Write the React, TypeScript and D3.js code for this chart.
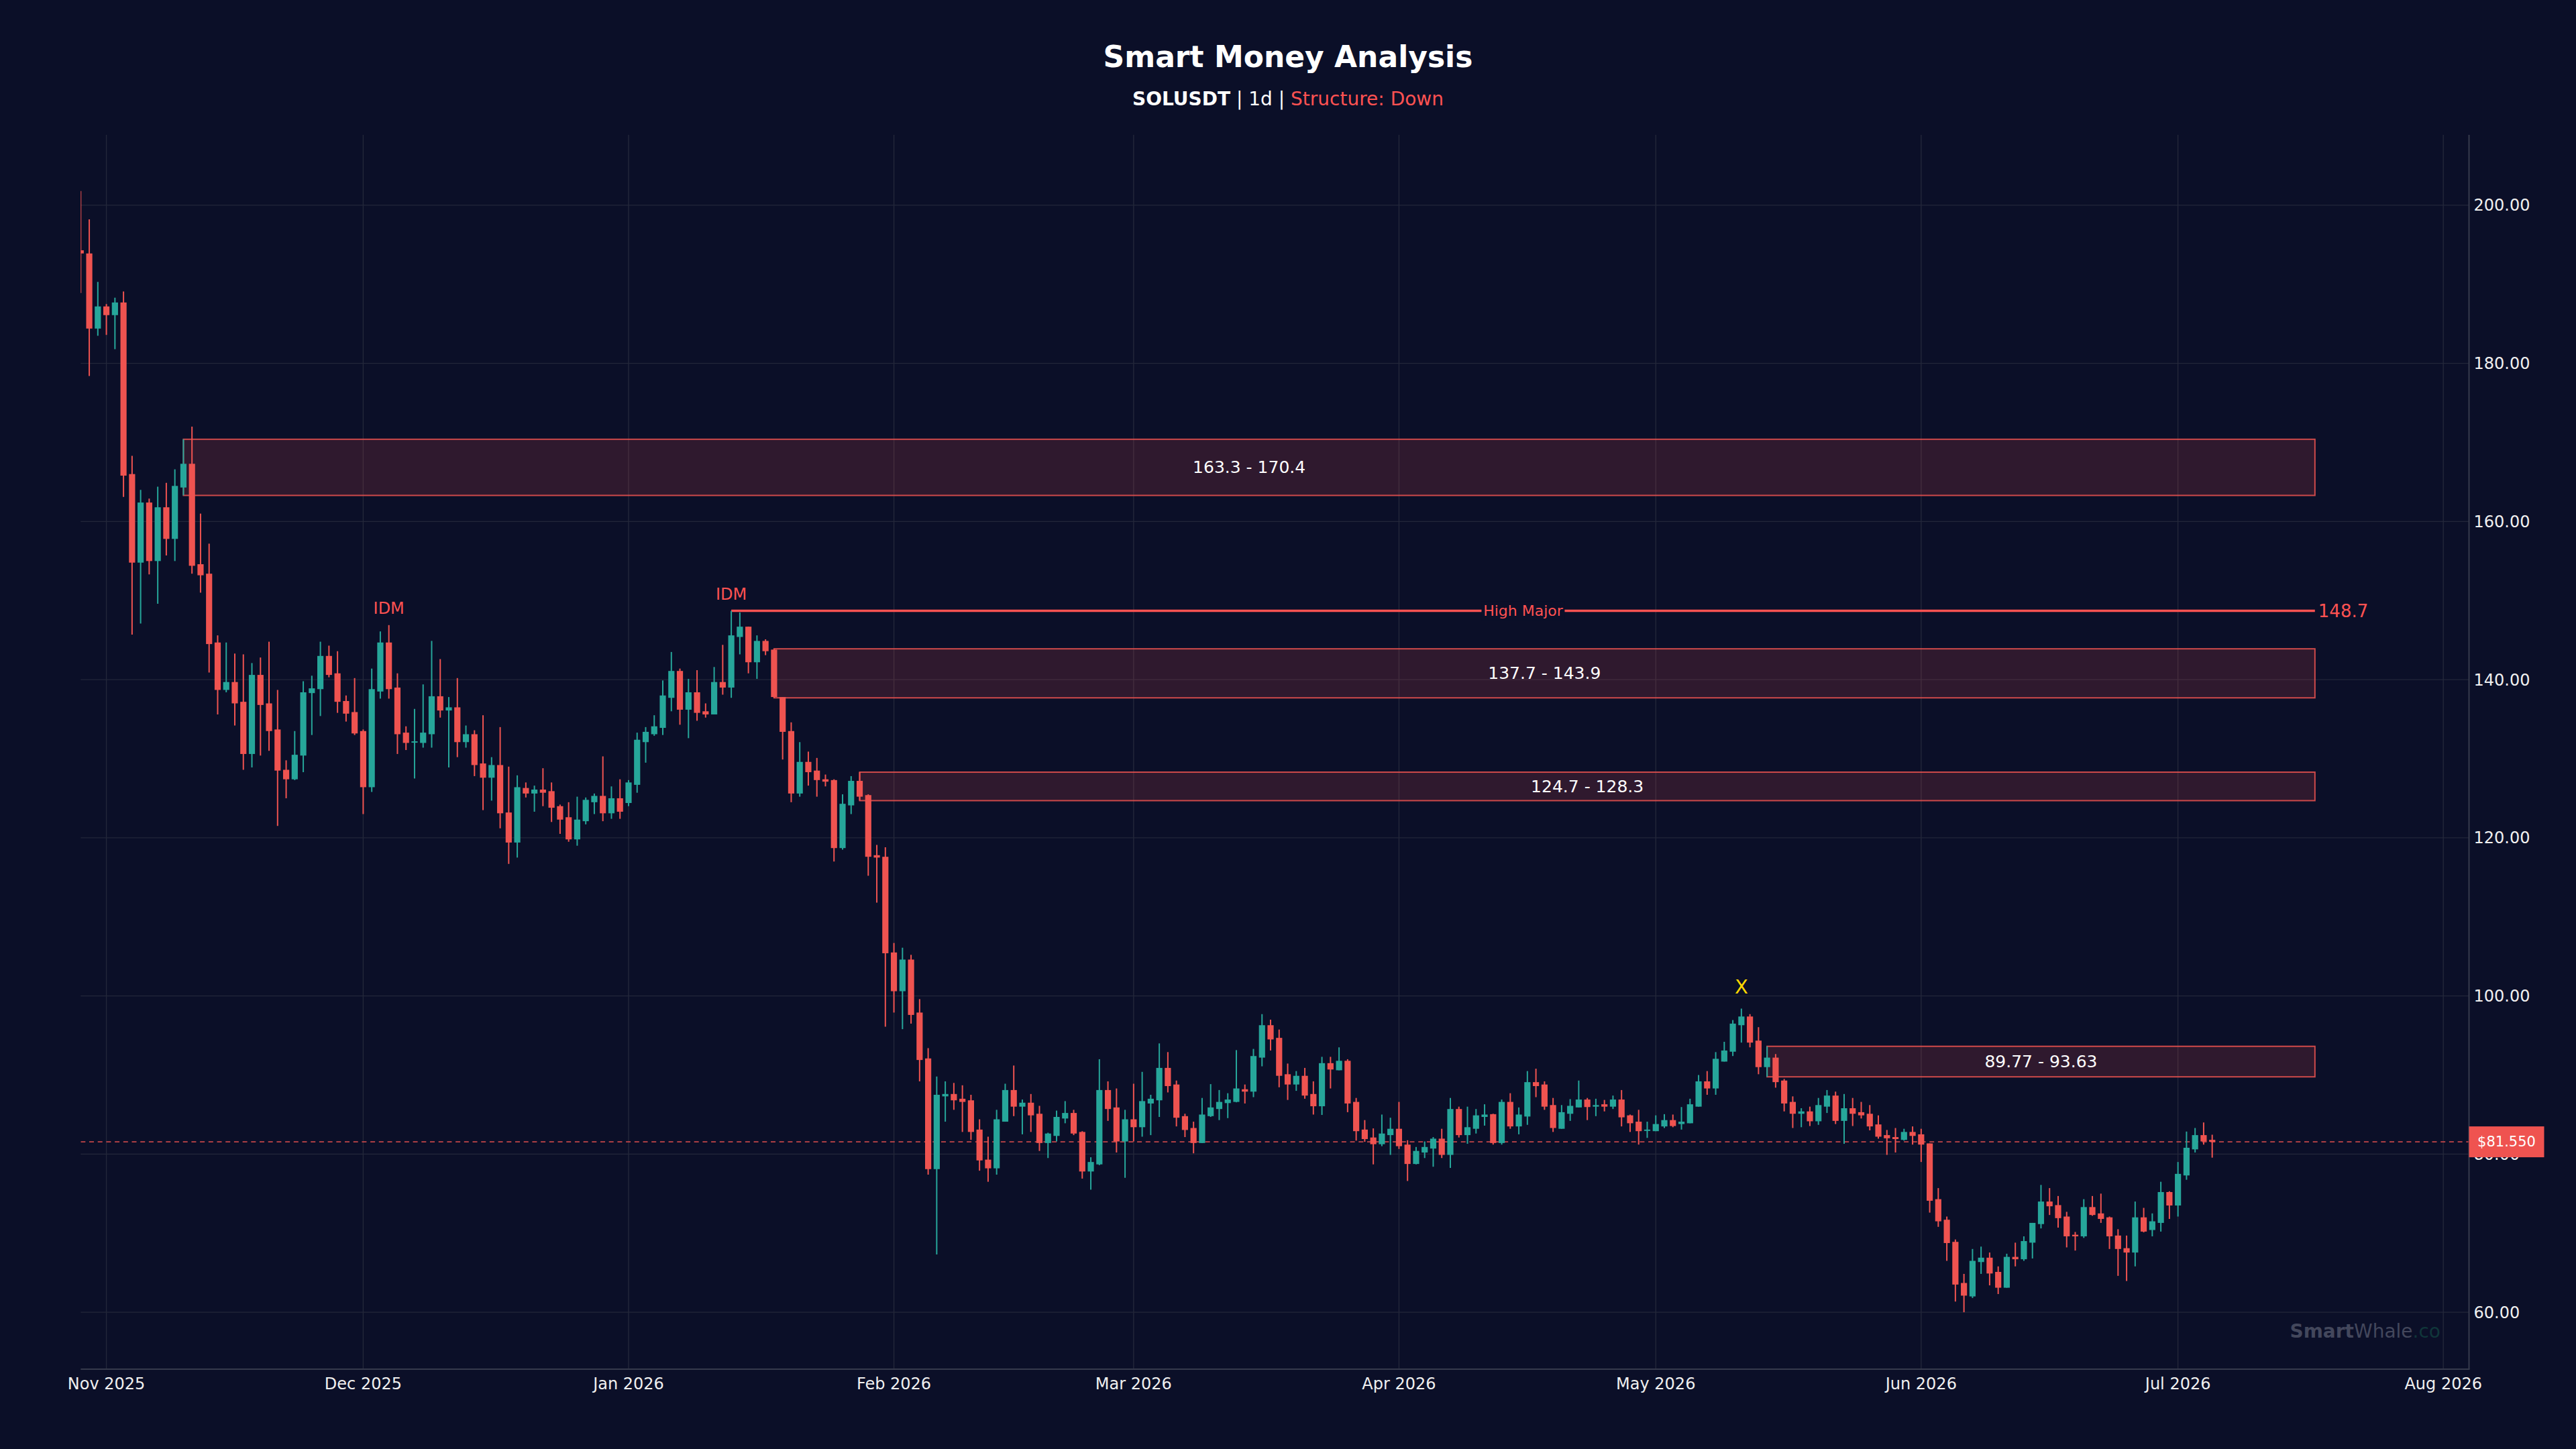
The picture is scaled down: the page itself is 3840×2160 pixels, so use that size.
import React from 'react';
import * as d3 from 'd3';

// SOLUSDT daily candles, 29 Oct 2025 -> 5 Jul 2026 (one entry per day)
const firstDay = Date.UTC(2025, 9, 29);

const opens = [
  194.3, 193.9, 184.4,
  187.2, 186.1, 187.7, 166.0, 154.8, 162.4, 155.0, 161.8, 157.8, 164.3, 167.3, 154.6, 153.4, 144.7, 138.7,
  139.7, 137.2, 130.6, 140.6, 137.0, 133.7, 128.6, 127.4, 130.4, 138.3, 138.8, 143.0, 140.8, 137.3, 135.9,
  133.5, 126.4, 138.5, 144.7, 139.0, 133.3, 132.1, 132.0, 133.1, 137.9, 136.1, 136.5, 132.1, 133.1, 129.4,
  127.6, 129.2, 123.2, 119.4, 126.3, 125.6, 126.1, 125.9, 124.0, 122.6, 119.8, 122.1, 124.5, 125.3, 123.1, 125.0,
  124.4, 126.7, 132.1, 133.1, 133.9, 137.7, 141.1, 136.2, 138.4, 136.0, 135.6, 139.7, 139.0, 145.4, 146.7,
  142.2, 144.9, 143.8, 137.8, 133.5, 125.6, 129.6, 128.5, 127.4, 127.3, 118.7, 124.1, 127.2, 125.4, 117.8, 117.6,
  105.5, 100.6, 104.6, 97.9, 92.1, 78.1, 87.3, 87.6, 87.0, 86.8, 83.1, 79.3, 78.2, 84.1, 88.1, 86.0,
  86.5, 85.1, 81.4, 82.3, 84.5, 85.2, 82.8, 77.8, 78.7, 88.1, 85.9, 81.6,
  84.4, 83.4, 86.4, 86.8, 90.9, 88.8, 84.8, 83.3, 81.4, 84.8, 85.7, 86.45, 86.6, 88.2, 87.9, 92.2,
  96.3, 94.7, 90.1, 88.8, 89.9, 87.6, 86.05, 91.5, 90.6, 91.8, 86.6, 83.1, 82.1, 81.25, 82.4,
  83.2, 81.2, 78.75, 80.2, 80.7, 81.95, 79.9, 85.7, 82.4, 83.2, 84.7, 85.05, 81.4, 86.6, 83.5,
  84.75, 89.1, 88.8, 86.2, 83.2, 85.1, 85.9, 86.9, 86.0, 86.3, 86.0, 86.9, 84.9, 84.1, 82.95,
  82.9, 83.5, 84.3, 83.8, 83.9, 86.0, 89.2, 88.3, 91.7, 92.95, 96.3, 97.4, 94.35, 91.0, 92.2, 89.3,
  86.6, 85.1, 85.4, 84.15, 86.0, 87.4, 84.2, 85.8, 85.3, 85.1, 83.75, 82.4, 82.15, 81.8, 82.8,
  82.5, 81.35, 74.3, 71.7, 68.9, 63.7, 62.0, 66.35, 66.9, 65.1, 63.1, 67.0, 66.7, 68.8, 71.15,
  74.0, 73.55, 72.1, 69.8, 69.6, 73.3, 72.5, 72.0, 69.7, 68.1, 67.55, 72.0, 70.4, 71.3, 75.2,
  73.5, 77.3, 80.6, 82.4, 81.8,
];

const highs = [
  201.8, 198.2, 190.3,
  187.5, 188.3, 189.1, 168.3, 164.0, 162.9, 164.4, 164.9, 166.6, 170.4, 172.0, 161.0, 157.2, 145.6, 144.7,
  143.3, 143.2, 142.1, 142.8, 144.8, 138.7, 129.8, 133.5, 139.8, 140.5, 144.8, 144.3, 143.6, 138.0, 140.2,
  133.7, 141.4, 146.1, 146.9, 140.8, 134.1, 136.3, 139.4, 144.9, 142.6, 137.8, 140.2, 134.2, 133.6, 135.5,
  130.2, 134.0, 129.0, 127.9, 127.0, 126.6, 128.8, 127.0, 124.2, 124.5, 125.2, 125.1, 125.6, 130.3, 126.5, 127.4,
  127.3, 133.3, 134.0, 135.5, 139.9, 143.5, 141.4, 140.1, 141.2, 137.0, 141.6, 144.4, 148.7, 148.5, 146.7,
  145.6, 145.1, 143.9, 137.8, 134.6, 132.1, 130.9, 130.1, 128.0, 127.4, 125.5, 127.8, 128.3, 125.5, 119.1, 118.8,
  106.7, 106.1, 105.2, 99.6, 93.4, 89.8, 89.2, 89.0, 88.7, 87.5, 84.4, 82.2, 85.6, 88.9, 91.2, 86.9,
  87.6, 86.1, 82.7, 85.5, 86.7, 85.6, 82.9, 79.6, 92.0, 89.2, 88.3, 85.6,
  88.9, 90.4, 87.5, 94.0, 92.9, 89.3, 85.1, 84.1, 87.1, 88.85, 88.1, 87.7, 93.15, 88.8, 93.3, 97.7,
  97.0, 95.75, 91.45, 90.5, 90.9, 89.2, 92.3, 92.3, 93.5, 92.0, 87.1, 84.3, 83.25, 85.0, 84.6,
  86.6, 81.75, 80.9, 81.6, 82.15, 83.2, 87.1, 86.0, 86.0, 85.7, 86.3, 85.1, 86.9, 87.7, 85.9,
  90.5, 90.8, 89.2, 87.1, 86.2, 86.95, 89.3, 87.1, 87.0, 86.85, 87.4, 88.1, 85.0, 85.6, 84.1,
  84.9, 85.05, 85.0, 85.95, 87.0, 90.0, 90.5, 92.9, 94.2, 96.95, 98.4, 97.7, 96.05, 93.63, 92.65, 89.5,
  87.3, 85.8, 86.0, 87.1, 88.1, 87.9, 87.6, 87.1, 86.6, 86.2, 84.9, 83.05, 83.3, 83.2, 83.5,
  83.2, 81.35, 75.7, 72.1, 69.2, 64.85, 68.0, 68.3, 67.55, 65.8, 67.4, 68.8, 69.6, 71.3, 76.1,
  75.7, 74.7, 72.7, 70.15, 74.3, 74.7, 75.0, 72.1, 70.5, 69.7, 74.0, 73.2, 72.5, 76.5, 75.3,
  79.0, 82.85, 83.3, 84.0, 82.45,
];

const lows = [
  188.9, 178.4, 183.5,
  183.6, 181.8, 163.1, 145.7, 147.1, 153.3, 149.6, 155.7, 155.0, 163.3, 153.4, 151.0, 140.9, 135.6, 138.4,
  134.2, 128.6, 128.9, 130.4, 131.0, 121.5, 125.0, 127.3, 128.3, 133.0, 135.4, 140.3, 135.8, 134.7, 133.0,
  123.0, 125.8, 137.6, 137.6, 130.6, 131.1, 127.5, 131.4, 131.4, 135.2, 128.9, 130.2, 131.4, 127.8, 123.5,
  124.7, 121.2, 116.7, 117.5, 125.1, 123.3, 124.0, 122.0, 120.5, 119.5, 119.0, 121.7, 123.0, 122.1, 122.4, 122.4,
  124.0, 125.7, 129.5, 132.9, 133.0, 136.0, 134.3, 132.6, 134.8, 135.2, 135.6, 138.1, 137.7, 143.2, 140.8,
  140.1, 143.1, 137.7, 129.9, 124.5, 125.2, 126.6, 125.2, 126.5, 117.0, 118.5, 123.0, 124.7, 115.2, 111.8, 96.1,
  97.9, 95.8, 96.5, 89.2, 77.4, 67.3, 84.1, 85.6, 82.8, 81.8, 77.9, 76.5, 77.4, 84.1, 84.8, 82.5,
  82.8, 80.4, 79.5, 81.6, 83.9, 82.4, 76.9, 75.5, 78.6, 84.2, 80.2, 77.0,
  81.6, 82.2, 82.4, 84.7, 87.8, 83.5, 82.15, 80.1, 81.4, 84.7, 84.3, 84.55, 86.55, 86.4, 87.2, 91.1,
  93.1, 88.45, 86.85, 88.0, 87.0, 85.0, 84.95, 88.3, 90.6, 85.3, 81.7, 81.55, 78.7, 81.0, 79.9,
  80.65, 76.6, 78.7, 79.5, 78.4, 79.5, 78.25, 82.1, 81.3, 82.6, 83.6, 81.2, 81.2, 83.2, 82.5,
  83.7, 87.2, 85.6, 82.8, 83.2, 84.2, 85.9, 84.3, 84.8, 85.4, 85.7, 83.5, 82.8, 81.2, 82.05,
  82.9, 83.3, 83.4, 83.1, 83.9, 86.0, 87.5, 87.5, 91.7, 92.4, 94.1, 93.5, 90.1, 89.77, 88.4, 85.4,
  83.3, 83.4, 83.55, 83.7, 85.2, 83.8, 81.3, 83.55, 84.5, 83.0, 81.95, 79.9, 80.2, 81.7, 81.2,
  79.0, 72.6, 70.8, 66.5, 61.35, 60.0, 61.8, 64.85, 63.4, 62.3, 63.1, 65.8, 66.5, 66.8, 70.6,
  72.3, 70.7, 68.2, 67.8, 69.4, 72.2, 71.3, 68.0, 64.6, 63.95, 65.8, 70.1, 69.6, 70.2, 71.8,
  72.1, 76.75, 80.2, 81.2, 79.55,
];

const closes = [
  193.9, 184.4, 187.2,
  186.1, 187.7, 165.8, 154.8, 162.4, 155.0, 161.8, 157.8, 164.5, 167.3, 154.4, 153.2, 144.5, 138.7, 139.7,
  137.0, 130.6, 140.6, 136.8, 133.5, 128.5, 127.4, 130.5, 138.4, 138.9, 143.0, 140.6, 137.2, 135.7, 133.2,
  126.4, 138.8, 144.7, 138.8, 133.1, 132.0, 132.2, 133.3, 137.9, 136.1, 136.5, 132.1, 133.1, 129.2, 127.6,
  129.2, 123.1, 119.4, 126.4, 125.6, 126.1, 125.7, 123.8, 122.3, 119.8, 122.3, 124.8, 125.3, 123.1, 125.0, 123.3,
  127.0, 132.4, 133.4, 134.1, 138.0, 141.1, 136.2, 138.4, 135.8, 135.6, 139.7, 139.0, 145.6, 146.7, 142.2,
  144.9, 143.6, 137.8, 133.4, 125.6, 129.6, 128.3, 127.3, 127.1, 118.7, 124.3, 127.2, 125.2, 117.6, 117.5, 105.4,
  100.6, 104.6, 97.6, 91.9, 78.1, 87.5, 87.6, 86.8, 86.6, 82.8, 79.2, 78.2, 84.4, 88.1, 86.0, 86.5,
  84.9, 81.4, 82.6, 84.7, 85.2, 82.6, 77.8, 79.0, 88.1, 85.7, 81.6, 84.4,
  83.4, 86.7, 87.0, 90.9, 88.6, 84.6, 83.05, 81.4, 85.0, 85.9, 86.6, 86.9, 88.3, 87.9, 92.4, 96.3,
  94.5, 89.9, 88.8, 89.9, 87.4, 86.05, 91.5, 90.7, 91.8, 86.4, 82.9, 81.9, 81.25, 82.6, 83.2,
  81.0, 78.75, 80.4, 80.9, 81.95, 79.9, 85.7, 82.4, 83.4, 84.9, 85.0, 81.4, 86.6, 83.5, 85.0,
  89.1, 88.6, 86.0, 83.3, 85.3, 86.1, 86.9, 85.95, 86.2, 86.0, 86.9, 84.65, 83.9, 82.9, 83.1,
  83.8, 84.3, 83.55, 84.1, 86.3, 89.2, 88.3, 92.05, 93.1, 96.5, 97.4, 94.1, 91.0, 92.2, 89.1, 86.4,
  85.1, 85.4, 84.15, 86.2, 87.4, 84.2, 85.8, 85.1, 84.9, 83.5, 82.2, 82.0, 81.9, 82.8, 82.3,
  81.2, 74.1, 71.5, 68.75, 63.5, 62.1, 66.5, 66.9, 64.9, 63.1, 67.0, 66.7, 69.0, 71.3, 74.0,
  73.4, 71.9, 69.6, 69.6, 73.3, 72.3, 71.8, 69.6, 68.0, 67.55, 72.0, 70.2, 71.5, 75.2, 73.5,
  77.5, 80.8, 82.4, 81.6, 81.55,
];

// supply zones (order blocks)
const zoneStarts = [Date.UTC(2025, 10, 10), Date.UTC(2026, 0, 18), Date.UTC(2026, 0, 28), Date.UTC(2026, 4, 14)];
const zoneLows = [163.3, 137.7, 124.7, 89.77];
const zoneHighs = [170.4, 143.9, 128.3, 93.63];
const zoneEnd = Date.UTC(2026, 6, 17);

const highMajor = 148.7;
const highMajorStart = Date.UTC(2026, 0, 13);
const idmDays = [Date.UTC(2025, 11, 4), Date.UTC(2026, 0, 13)];
const xMarkDay = Date.UTC(2026, 4, 11);
const lastPrice = 81.55;

const yTicks = [60, 80, 100, 120, 140, 160, 180, 200];

const BG = '#0b0f28';
const UP = '#26a69a';
const DOWN = '#ef5350';
const RED = '#ff5252';
const GRID = '#23273a';
const FONT = '"DejaVu Sans", Verdana, sans-serif';

export default function App() {
  const W = 3840;
  const H = 2160;
  const left = 120.3;
  const right = 3680.5;
  const top = 201;
  const bottom = 2041;

  const x = d3.scaleUtc()
    .domain([new Date(Date.UTC(2025, 9, 29)), new Date(Date.UTC(2026, 7, 4))])
    .range([left, right]);
  const y = d3.scaleLinear().domain([52.8, 208.9]).range([bottom, top]);

  const candles = opens.map((o, i) => ({
    date: d3.utcDay.offset(new Date(firstDay), i),
    o, h: highs[i], l: lows[i], c: closes[i],
  }));

  const halfDay = 0.36 * 86400000;
  const bodyW = x(new Date(firstDay + halfDay)) - x(new Date(firstDay - halfDay));
  const months = d3.utcMonth.range(new Date(Date.UTC(2025, 10, 1)), new Date(Date.UTC(2026, 7, 2)));
  const fmtMonth = d3.utcFormat('%b %Y');
  const fmtTick = d3.format('.2f');

  const hmX0 = x(new Date(highMajorStart));
  const hmX1 = x(new Date(zoneEnd));
  const hmY = y(highMajor);
  const hmMid = (hmX0 + hmX1) / 2;

  return (
    <svg width={W} height={H} style={{ position: 'absolute', left: 0, top: 0, display: 'block' }}
      fontFamily={FONT}>
      <defs>
        <clipPath id="plot">
          <rect x={left} y={top} width={right - left} height={bottom - top} />
        </clipPath>
      </defs>
      <rect width={W} height={H} fill={BG} />

      {/* title */}
      <text x={1920} y={100} textAnchor="middle" fill="#ffffff" fontSize={44} fontWeight="bold">
        Smart Money Analysis
      </text>
      <text x={1920} y={157} textAnchor="middle" fontSize={28} fill="#ffffff">
        <tspan fontWeight="bold">SOLUSDT</tspan>
        <tspan> | 1d | </tspan>
        <tspan fill={RED}>Structure: Down</tspan>
      </text>

      {/* grid */}
      <g stroke={GRID} strokeWidth={1.4}>
        {months.map((m) => (
          <line key={'v' + m.getTime()} x1={x(m)} x2={x(m)} y1={top} y2={bottom} />
        ))}
        {yTicks.map((t) => (
          <line key={'h' + t} x1={left} x2={right} y1={y(t)} y2={y(t)} />
        ))}
      </g>

      {/* watermark */}
      <text x={3638} y={1994} textAnchor="end" fontSize={28}>
        <tspan fill="#43475c" fontWeight="bold">Smart</tspan>
        <tspan fill="#43475c">Whale</tspan>
        <tspan fill="#10363a">.co</tspan>
      </text>

      <g clipPath="url(#plot)">
        {/* zones */}
        {zoneStarts.map((s, i) => {
          const x0 = x(new Date(s));
          const x1 = x(new Date(zoneEnd));
          const y0 = y(zoneHighs[i]);
          const y1 = y(zoneLows[i]);
          return (
            <g key={'z' + i}>
              <rect x={x0} y={y0} width={x1 - x0} height={y1 - y0}
                fill="rgba(239,83,80,0.16)" stroke="rgba(239,83,80,0.85)" strokeWidth={2} />
              <text x={(x0 + x1) / 2} y={(y0 + y1) / 2} dy="0.35em" textAnchor="middle"
                fill="#ffffff" fontSize={25}>
                {zoneLows[i]} - {zoneHighs[i]}
              </text>
            </g>
          );
        })}

        {/* high major line */}
        <line x1={hmX0} x2={hmX1} y1={hmY} y2={hmY} stroke={RED} strokeWidth={3.5} />
        <rect x={hmMid - 62} y={hmY - 14} width={124} height={28} fill={BG} />
        <text x={hmMid} y={hmY} dy="0.35em" textAnchor="middle" fill={RED} fontSize={22}>High Major</text>

        {/* last price line */}
        <line x1={left} x2={right} y1={y(lastPrice)} y2={y(lastPrice)}
          stroke="rgba(239,83,80,0.8)" strokeWidth={1.8} strokeDasharray="7,5.7" />

        {/* candles */}
        {candles.map((d) => {
          const cx = x(d.date);
          const col = d.c >= d.o ? UP : DOWN;
          const yt = y(Math.max(d.o, d.c));
          const yb = y(Math.min(d.o, d.c));
          return (
            <g key={d.date.getTime()}>
              <line x1={cx} x2={cx} y1={y(d.h)} y2={y(d.l)} stroke={col} strokeWidth={2} />
              <rect x={cx - bodyW / 2} y={yt} width={bodyW} height={Math.max(yb - yt, 2)} fill={col} />
            </g>
          );
        })}

        {/* markers */}
        {idmDays.map((t) => {
          const i = Math.round((t - firstDay) / 86400000);
          return (
            <text key={'idm' + t} x={x(new Date(t))} y={y(highs[i]) - 17} textAnchor="middle"
              fill={RED} fontSize={24}>IDM</text>
          );
        })}
        <text x={x(new Date(xMarkDay))}
          y={y(highs[Math.round((xMarkDay - firstDay) / 86400000)]) - 22}
          textAnchor="middle" fill="#ffd700" fontSize={29}>X</text>
      </g>

      <text x={hmX1 + 5} y={hmY} dy="0.35em" fill={RED} fontSize={26}>{highMajor}</text>

      {/* spines */}
      <line x1={left} x2={right + 1} y1={bottom} y2={bottom} stroke="#363a4c" strokeWidth={2} />
      <line x1={right} x2={right} y1={top} y2={bottom} stroke="#363a4c" strokeWidth={2} />

      {/* axes labels */}
      {yTicks.map((t) => (
        <text key={'yl' + t} x={right + 7} y={y(t)} dy="0.35em" fill="#f0f0f0" fontSize={24}>
          {fmtTick(t)}
        </text>
      ))}
      {months.map((m) => (
        <text key={'xl' + m.getTime()} x={x(m)} y={2071} textAnchor="middle" fill="#f0f0f0" fontSize={24}>
          {fmtMonth(m)}
        </text>
      ))}

      {/* current price tag, drawn over the 80.00 label as in the source */}
      <rect x={right} y={y(lastPrice) - 23} width={112} height={46} fill={DOWN} />
      <text x={right + 56} y={y(lastPrice)} dy="0.35em" textAnchor="middle" fill="#ffffff" fontSize={21}>
        ${lastPrice.toFixed(3)}
      </text>
    </svg>
  );
}
